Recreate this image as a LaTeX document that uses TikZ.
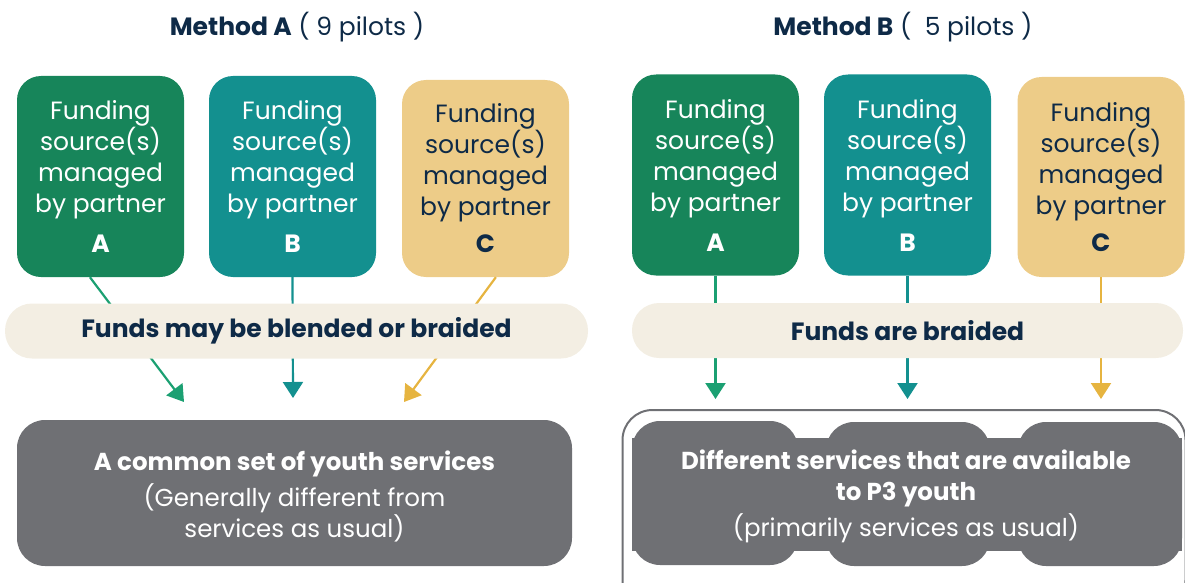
\documentclass[tikz,border=0pt]{standalone}
\usepackage{fontspec}
\setmainfont{Poppins}
\usetikzlibrary{arrows.meta}
\definecolor{ppgreen}{HTML}{17855A}
\definecolor{ppteal}{HTML}{13908F}
\definecolor{ppgold}{HTML}{EDCC88}
\definecolor{ppband}{HTML}{F3EEE3}
\definecolor{ppgray}{HTML}{6F7074}
\definecolor{ppnavy}{HTML}{0E2A47}
\definecolor{arrgreen}{HTML}{1BA072}
\definecolor{arrteal}{HTML}{13908F}
\definecolor{arrgold}{HTML}{E6B440}
\begin{document}
\begin{tikzpicture}[x=1pt, y=-1pt,
title/.style={text=ppnavy, font=\fontsize{25}{28}\selectfont},
source/.style={rounded corners=24pt, minimum width=167pt, minimum height=201pt, inner sep=0pt, align=center, font=\fontsize{25}{31}\selectfont},
band/.style={fill=ppband, rounded corners=27pt, minimum height=55pt, text=ppnavy, font=\bfseries\fontsize{25}{28}\selectfont},
service/.style={fill=ppgray, rounded corners=28pt, inner sep=0pt},
servtext/.style={text=white, align=center, font=\fontsize{24.5}{31}\selectfont},
flow/.style={line width=2.2pt, -{Triangle[length=16pt, width=20pt]}},
]
\useasboundingbox (0,0) rectangle (1185,583);

% Method A
\node[title] (titleA) at (297,27) {\textbf{Method A} ( 9 pilots )};
\node[source, fill=ppgreen, text=white] (srcAa) at (100.5,176.5) {Funding\\source(s)\\managed\\by partner\\[9pt]\textbf{A}};
\node[source, fill=ppteal, text=white] (srcAb) at (292.5,176.5) {Funding\\source(s)\\managed\\by partner\\[9pt]\textbf{B}};
\node[source, fill=ppgold, text=ppnavy, minimum height=197pt] (srcAc) at (485.5,178.5) {Funding\\source(s)\\managed\\by partner\\[6pt]\textbf{C}};

\coordinate (tipAa) at (184,402);
\coordinate (tipAb) at (293,398);
\coordinate (tipAc) at (404,402);
\draw[flow, arrgreen] (srcAa.-96) -- (tipAa);
\draw[flow, arrteal] (srcAb.south) -- (tipAb);
\draw[flow, arrgold] (srcAc.-84) -- (tipAc);

\node[band, minimum width=583pt] (bandA) at (296.5,331) {Funds may be blended or braided};

\node[service, minimum width=555pt, minimum height=146pt] (servA) at (294.5,493) {};
\node[servtext] (servAtxt) at (294.5,496) {\textbf{A common set of youth services}\\[5pt](Generally different from\\services as usual)};

% Method B
\node[title] (titleB) at (903,27) {\textbf{Method B} (\ \ 5 pilots )};
\node[source, fill=ppgreen, text=white] (srcBa) at (715.5,175) {Funding\\source(s)\\managed\\by partner\\[9pt]\textbf{A}};
\node[source, fill=ppteal, text=white] (srcBb) at (907.5,175) {Funding\\source(s)\\managed\\by partner\\[9pt]\textbf{B}};
\node[source, fill=ppgold, text=ppnavy, minimum height=200pt] (srcBc) at (1101,177) {Funding\\source(s)\\managed\\by partner\\[6pt]\textbf{C}};

\coordinate (tipBa) at (715.5,399);
\coordinate (tipBb) at (907.5,399);
\coordinate (tipBc) at (1101,399);
\draw[flow, arrgreen] (srcBa.south) -- (tipBa);
\draw[flow, arrteal] (srcBb.south) -- (tipBb);
\draw[flow, arrgold] (srcBc.south) -- (tipBc);

\node[band, minimum width=551pt] (bandB) at (907.5,330.5) {Funds are braided};

\node[draw=ppgray, line width=2pt, rounded corners=30pt, minimum width=563pt, minimum height=200pt] (frameB) at (904,510) {};
\node[service, minimum width=166pt, minimum height=144pt] (servBa) at (715,493) {};
\node[service, minimum width=164pt, minimum height=144pt] (servBb) at (908,494) {};
\node[service, minimum width=164pt, minimum height=144pt] (servBc) at (1100,494) {};
\fill[ppgray] (servBa.west |- 0,438) rectangle (servBc.east |- 0,551);
\node[servtext] (servBtxt) at (906,496) {\textbf{Different services that are available}\\\textbf{to P3 youth}\\[5pt](primarily services as usual)};
\end{tikzpicture}
\end{document}
